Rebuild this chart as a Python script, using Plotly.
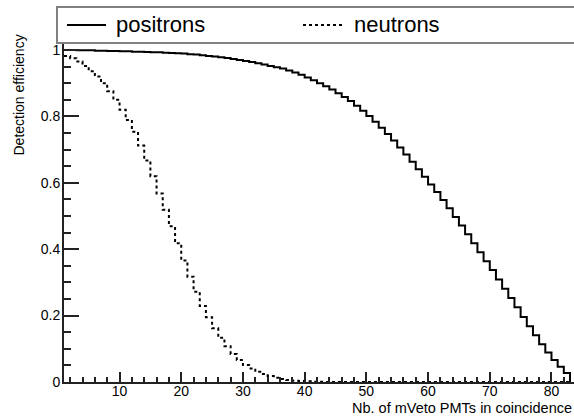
import plotly.graph_objects as go

# Bin lower edges (bins of width 1 starting at 1)
positron_edges = list(range(1, 84))
positron_eff = [
    1.000, 1.000, 0.999, 0.999, 0.999, 0.998, 0.998, 0.997, 0.997, 0.996,
    0.996, 0.995, 0.995, 0.994, 0.993, 0.993, 0.992, 0.991, 0.990, 0.989,
    0.987, 0.986, 0.984, 0.982, 0.980, 0.978, 0.976, 0.973, 0.970, 0.967,
    0.964, 0.960, 0.956, 0.952, 0.948, 0.944, 0.938, 0.932, 0.925, 0.917,
    0.909, 0.900, 0.891, 0.881, 0.870, 0.858, 0.846, 0.832, 0.817, 0.801,
    0.784, 0.766, 0.747, 0.727, 0.706, 0.685, 0.663, 0.641, 0.618, 0.595,
    0.572, 0.548, 0.523, 0.497, 0.471, 0.445, 0.418, 0.391, 0.364, 0.337,
    0.309, 0.281, 0.253, 0.225, 0.196, 0.168, 0.141, 0.114, 0.089, 0.066,
    0.046, 0.027, 0.0,
]

neutron_edges = list(range(1, 84))
neutron_eff = [
    0.982, 0.975, 0.965, 0.952, 0.936, 0.920, 0.900, 0.876, 0.850, 0.820,
    0.789, 0.754, 0.712, 0.667, 0.620, 0.568, 0.519, 0.469, 0.418, 0.366,
    0.317, 0.272, 0.229, 0.195, 0.162, 0.133, 0.108, 0.084, 0.066, 0.051,
    0.041, 0.031, 0.024, 0.018, 0.013, 0.009, 0.006, 0.004, 0.003, 0.002,
    0.001, 0.0005, 0.0,
] + [0.0] * 40

legend_labels = ["positrons", "neutrons"]
x_title = "Nb. of mVeto PMTs in coincidence"
y_title = "Detection efficiency"

FONT = "Liberation Sans, Arial, Helvetica, sans-serif"

fig = go.Figure()
fig.add_trace(go.Scatter(
    x=positron_edges, y=positron_eff, mode="lines", line_shape="hv",
    line=dict(color="black", width=2), name=legend_labels[0], showlegend=False,
))
fig.add_trace(go.Scatter(
    x=neutron_edges, y=neutron_eff, mode="lines", line_shape="hv",
    line=dict(color="black", width=2, dash="dot"), name=legend_labels[1], showlegend=False,
))

W, H = 574, 416
L, R, T, B = 64, 0, 42, 34
pw, ph = W - L - R, H - T - B

def px_x(x):
    return (x - L) / pw

def px_y(y):
    return (H - B - y) / ph

# legend box
fig.add_shape(type="rect", xref="paper", yref="paper",
              x0=px_x(57), x1=px_x(590), y0=px_y(43), y1=px_y(7),
              line=dict(color="#808080", width=2), fillcolor="white", layer="above")
fig.add_shape(type="line", xref="paper", yref="paper",
              x0=px_x(67), x1=px_x(106), y0=px_y(25), y1=px_y(25),
              line=dict(color="black", width=2), layer="above")
fig.add_shape(type="line", xref="paper", yref="paper",
              x0=px_x(303), x1=px_x(342), y0=px_y(25), y1=px_y(25),
              line=dict(color="black", width=2, dash="dot"), layer="above")
fig.add_annotation(x=px_x(114), y=px_y(25), xref="paper", yref="paper",
                   text=legend_labels[0], showarrow=False, xanchor="left", yanchor="middle",
                   font=dict(family=FONT, size=22, color="black"))
fig.add_annotation(x=px_x(352), y=px_y(25), xref="paper", yref="paper",
                   text=legend_labels[1], showarrow=False, xanchor="left", yanchor="middle",
                   font=dict(family=FONT, size=22, color="black"))

# axis titles
fig.add_annotation(x=1.0, y=px_y(408), xref="paper", yref="paper",
                   text=x_title, showarrow=False, xanchor="right", yanchor="middle",
                   font=dict(family=FONT, size=14.5, color="black"))
fig.add_annotation(x=px_x(18), y=px_y(33), xref="paper", yref="paper",
                   text=y_title, showarrow=False, xanchor="center", yanchor="top",
                   textangle=-90, font=dict(family=FONT, size=14, color="black"))

fig.update_xaxes(
    range=[1, 83.65], tickmode="linear", tick0=0, dtick=10,
    ticks="inside", ticklen=10, tickwidth=1.5, tickcolor="#222",
    minor=dict(tickmode="linear", tick0=0, dtick=2, ticks="inside", ticklen=5, tickwidth=1.5, tickcolor="#222"),
    showline=True, linecolor="#222", linewidth=2, showgrid=False, zeroline=False,
    tickfont=dict(family=FONT, size=14, color="black"), ticklabelstandoff=-5,
)
fig.update_yaxes(
    range=[0, 1.024], tickmode="linear", tick0=0, dtick=0.2,
    ticks="inside", ticklen=15, tickwidth=1.5, tickcolor="#222",
    minor=dict(tickmode="linear", tick0=0, dtick=0.05, ticks="inside", ticklen=7, tickwidth=1.5, tickcolor="#222"),
    showline=True, linecolor="#222", linewidth=2, showgrid=False, zeroline=False,
    tickfont=dict(family=FONT, size=14, color="black"), ticklabelstandoff=-1,
)

fig.update_layout(
    width=W, height=H, margin=dict(l=L, r=R, t=T, b=B),
    paper_bgcolor="white", plot_bgcolor="white", showlegend=False,
)

fig.write_html("out.html")
